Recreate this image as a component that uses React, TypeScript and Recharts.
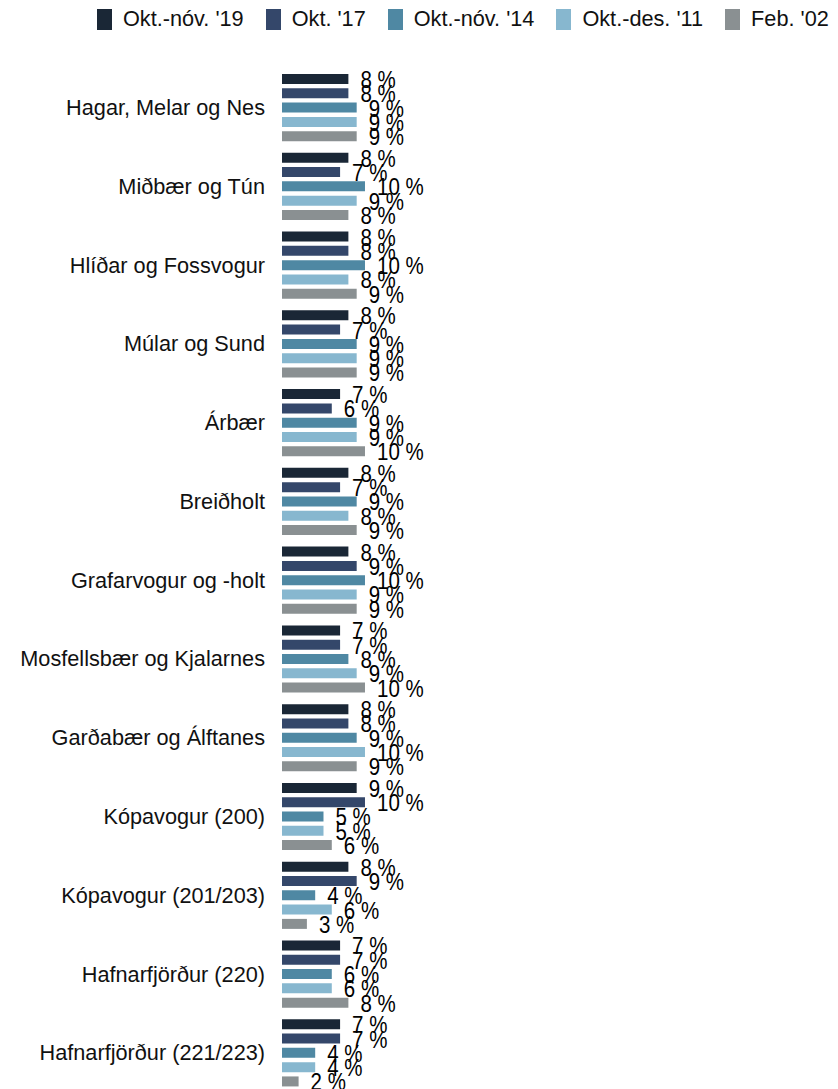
import React from 'react';
import { BarChart, Bar, XAxis, YAxis, LabelList } from 'recharts';

const categories = [
  'Hagar, Melar og Nes',
  'Miðbær og Tún',
  'Hlíðar og Fossvogur',
  'Múlar og Sund',
  'Árbær',
  'Breiðholt',
  'Grafarvogur og -holt',
  'Mosfellsbær og Kjalarnes',
  'Garðabær og Álftanes',
  'Kópavogur (200)',
  'Kópavogur (201/203)',
  'Hafnarfjörður (220)',
  'Hafnarfjörður (221/223)',
];

const oktNov19 = [8, 8, 8, 8, 7, 8, 8, 7, 8, 9, 8, 7, 7];
const okt17 = [8, 7, 8, 7, 6, 7, 9, 7, 8, 10, 9, 7, 7];
const oktNov14 = [9, 10, 10, 9, 9, 9, 10, 8, 9, 5, 4, 6, 4];
const oktDes11 = [9, 9, 8, 9, 9, 8, 9, 9, 10, 5, 6, 6, 4];
const feb02 = [9, 8, 9, 9, 10, 9, 9, 10, 9, 6, 3, 8, 2];

const seriesKeys = ['s19', 's17', 's14', 's11', 's02'];
const seriesNames = ["Okt.-nóv. '19", "Okt. '17", "Okt.-nóv. '14", "Okt.-des. '11", "Feb. '02"];
const seriesColors = ['#1a2736', '#34476a', '#4f88a3', '#87b7cf', '#8a9092'];
const seriesValues = [oktNov19, okt17, oktNov14, oktDes11, feb02];

const data = categories.map((name, i) => {
  const row: Record<string, string | number> = { name };
  seriesKeys.forEach((k, j) => {
    row[k] = seriesValues[j][i];
  });
  return row;
});

const FONT = '"Liberation Sans", Arial, sans-serif';

const ValueLabel = (props: any) => {
  const { x, y, width, height, value } = props;
  const tx = Number(x) + Number(width) + 12;
  const ty = Number(y) + Number(height) / 2 + 1;
  return (
    <text
      transform={`translate(${tx},${ty}) scale(1,1.14)`}
      x={0}
      y={0}
      dominantBaseline="central"
      textAnchor="start"
      fontSize={20.5}
      fontFamily={FONT}
      fill="#000"
    >
      {`${value} %`}
    </text>
  );
};

export default function App() {
  return (
    <div style={{ position: 'relative', width: 830, height: 1089, fontFamily: FONT }}>
      <div
        style={{
          position: 'absolute',
          left: 89,
          top: 0,
          display: 'flex',
          alignItems: 'center',
          height: 22,
          fontSize: 21.7,
          color: '#111',
          whiteSpace: 'nowrap',
        }}
      >
        {seriesNames.map((n, i) => (
          <div key={n} style={{ display: 'flex', alignItems: 'center', marginRight: 22 }}>
            <div style={{ width: 15, height: 21, background: seriesColors[i], marginRight: 11 }} />
            <span style={{ lineHeight: '22px' }}>{n}</span>
          </div>
        ))}
      </div>
      <BarChart
        width={830}
        height={1089}
        data={data}
        layout="vertical"
        margin={{ top: 60, right: 0, bottom: 5, left: 0 }}
        barSize={10}
        barGap={4.3}
      >
        <XAxis type="number" hide domain={[0, 67]} allowDataOverflow />
        <YAxis
          type="category"
          dataKey="name"
          width={274}
          axisLine={false}
          tickLine={false}
          tickSize={0}
          tickMargin={17}
          interval={0}
          tick={{ fontSize: 21.7, fill: '#111', fontFamily: FONT }}
        />
        {seriesKeys.map((k, i) => (
          <Bar key={k} dataKey={k} name={seriesNames[i]} fill={seriesColors[i]} isAnimationActive={false}>
            <LabelList dataKey={k} content={ValueLabel} />
          </Bar>
        ))}
      </BarChart>
    </div>
  );
}
